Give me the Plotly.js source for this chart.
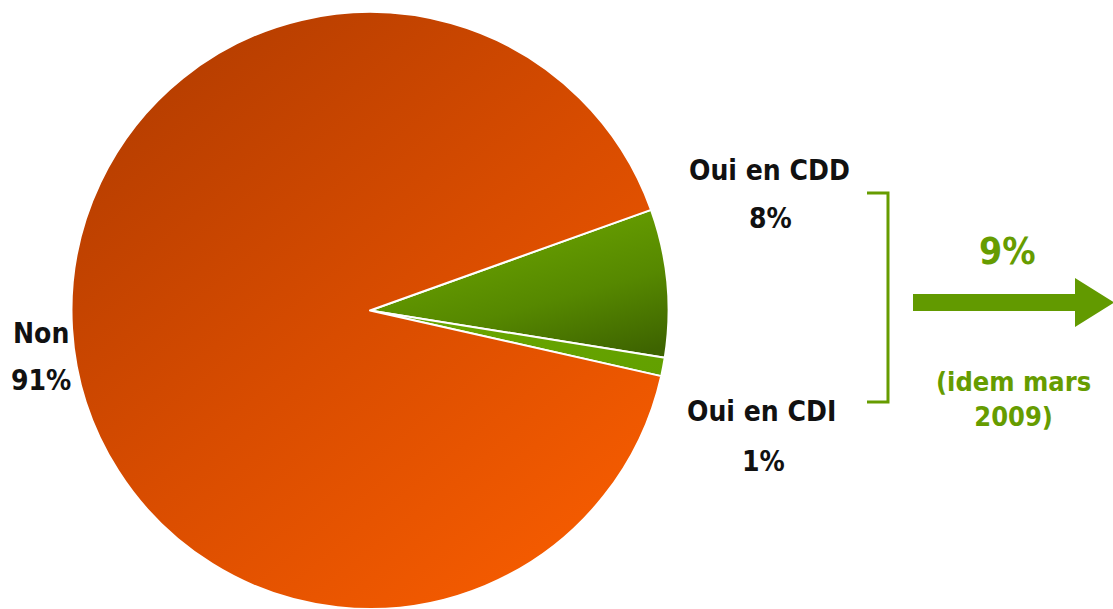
<!DOCTYPE html>
<html>
<head>
<meta charset="utf-8">
<script src="https://cdn.plot.ly/plotly-3.0.1.min.js"></script>
<style>html,body{margin:0;padding:0;background:#fff;}#chart{width:1113px;height:609px;}</style>
</head>
<body>
<div id="chart"></div>
<script>
// Data
const categories = ["Oui en CDD", "Oui en CDI", "Non"];
const values = [8, 1, 91];
const percentLabels = ["8%", "1%", "91%"];
const sliceColors = ["#5a8f00", "#68a300", "#dd4f00"];
const totalLabel = "9%";
const noteLabel = "(idem mars<br>2009)";

const W = 1113, H = 609;
const px = x => x / W;
const py = y => 1 - y / H;
const FONT = "DejaVu Sans Condensed, DejaVu Sans, sans-serif";
const GREEN = "#669c00";

const trace = {
  type: "pie",
  labels: categories,
  values: values,
  sort: false,
  direction: "clockwise",
  rotation: 70.3,
  textinfo: "none",
  hoverinfo: "none",
  showlegend: false,
  marker: { colors: sliceColors, line: { color: "#ffffff", width: 2 } },
  domain: { x: [px(70), px(670)], y: [0, py(12)] }
};

function ann(text, x, y, size, color) {
  return {
    text: text, xref: "paper", yref: "paper", x: px(x), y: py(y),
    xanchor: "center", yanchor: "middle", showarrow: false,
    font: { family: FONT, size: size, color: color, weight: "bold" }
  };
}

const annotations = [
  ann(categories[0], 769, 170, 28, "#111111"),
  ann(percentLabels[0], 770, 218, 28, "#111111"),
  ann(categories[1], 761, 412, 28, "#111111"),
  ann(percentLabels[1], 763, 461, 28, "#111111"),
  ann(categories[2], 41, 333, 28, "#111111"),
  ann(percentLabels[2], 41, 380, 28, "#111111"),
  ann(totalLabel, 1007, 251, 37, GREEN),
  ann(noteLabel, 1013, 399, 27, GREEN)
];

function P(pts, close) {
  let s = pts.map((p, i) => (i ? "L" : "M") + px(p[0]).toFixed(5) + "," + py(p[1]).toFixed(5)).join(" ");
  return close ? s + " Z" : s;
}

const shapes = [
  { type: "path", xref: "paper", yref: "paper",
    path: P([[867,193],[888,193],[888,402],[867,402]], false),
    line: { color: GREEN, width: 3 } },
  { type: "path", xref: "paper", yref: "paper",
    path: P([[913,294],[1075,294],[1075,278],[1114,302.5],[1075,327],[1075,311],[913,311]], true),
    fillcolor: "#629a00", line: { width: 0 } }
];

const layout = {
  width: W, height: H,
  margin: { l: 0, r: 0, t: 0, b: 0 },
  paper_bgcolor: "#ffffff",
  plot_bgcolor: "#ffffff",
  showlegend: false,
  annotations: annotations,
  shapes: shapes
};

Plotly.newPlot("chart", [trace], layout, { displayModeBar: false, staticPlot: true }).then(gd => {
  const svg = gd.querySelector(".main-svg");
  const ns = "http://www.w3.org/2000/svg";
  let defs = svg.querySelector("defs");
  if (!defs) { defs = document.createElementNS(ns, "defs"); svg.insertBefore(defs, svg.firstChild); }
  function grad(id, x1, y1, x2, y2, stops) {
    const g = document.createElementNS(ns, "linearGradient");
    g.setAttribute("id", id);
    g.setAttribute("x1", x1); g.setAttribute("y1", y1);
    g.setAttribute("x2", x2); g.setAttribute("y2", y2);
    stops.forEach(s => {
      const st = document.createElementNS(ns, "stop");
      st.setAttribute("offset", s[0]); st.setAttribute("stop-color", s[1]);
      g.appendChild(st);
    });
    defs.appendChild(g);
  }
  grad("gCDD", "0.3", "0", "0.85", "1", [["0", "#6ea800"], ["0.6", "#568800"], ["1", "#3e6400"]]);
  grad("gCDI", "0", "0", "1", "1", [["0", "#6aa600"], ["1", "#62a000"]]);
  grad("gNon", "0.1", "0", "0.9", "1", [["0", "#b03b00"], ["0.5", "#d84c00"], ["1", "#fa5e00"]]);
  const ids = ["gCDD", "gCDI", "gNon"];
  gd.querySelectorAll(".slice path.surface").forEach((p, i) => {
    if (ids[i]) p.style.fill = "url(#" + ids[i] + ")";
  });
});
</script>
</body>
</html>
